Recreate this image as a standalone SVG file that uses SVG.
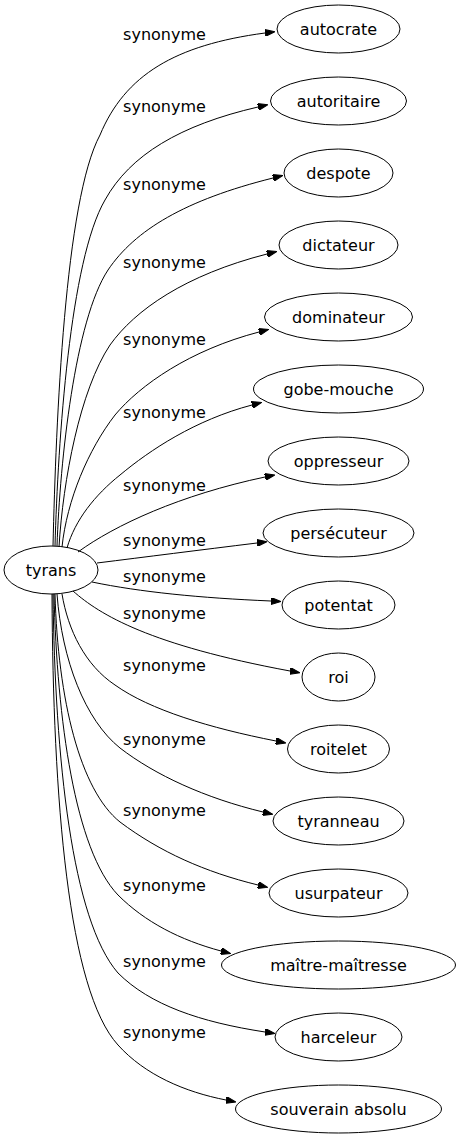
<svg xmlns="http://www.w3.org/2000/svg" width="460" height="1139" viewBox="0 0 460 1139">
<style>
.n ellipse{fill:none;stroke:#000;stroke-width:1}
.n text{font-family:"DejaVu Sans",sans-serif;font-size:16px;text-anchor:middle;fill:#000}
.e path{fill:none;stroke:#000;stroke-width:1;marker-end:url(#ah)}
.e text{font-family:"DejaVu Sans",sans-serif;font-size:16px;text-anchor:middle;fill:#000}
</style>
<defs>
<marker id="ah" viewBox="0 0 10 7" refX="0" refY="3.5" markerWidth="10" markerHeight="7" markerUnits="userSpaceOnUse" orient="auto">
<path d="M0,0 L10,3.5 L0,7 z" fill="#000" stroke="#000" stroke-width="1"/>
</marker>
</defs>
<rect width="460" height="1139" fill="#fff"/>
<g id="edges" class="e">
<path d="M53,546 C56,420 65,200 100,135 C125,75 175,45 265,33"/>
<path d="M55,546 C58,440 70,260 105,200 C130,155 180,125 258,107"/>
<path d="M57,546 C60,460 75,320 108,270 C135,230 185,200 273,178"/>
<path d="M59,547 C63,480 80,390 110,345 C135,310 185,275 267,254"/>
<path d="M62,547 C67,500 88,450 115,415 C140,385 190,350 259,332"/>
<path d="M67,548 C75,520 95,495 120,475 C150,450 195,420 252,405"/>
<path d="M78,552 C115,525 180,495 265,477"/>
<path d="M97,563 C145,557 200,550 257,543"/>
<path d="M92,582 C140,592 200,598 271,601"/>
<path d="M73,591 C100,615 150,645 290,671"/>
<path d="M62,594 C68,630 85,665 115,685 C150,710 210,728 276,741"/>
<path d="M57,594 C62,660 85,720 120,748 C155,775 205,798 263,812"/>
<path d="M55,594 C58,700 80,790 120,822 C160,852 205,872 258,885"/>
<path d="M54,594 C57,720 75,850 118,895 C145,922 180,940 221,951"/>
<path d="M53,594 C55,760 72,920 118,973 C150,1005 200,1022 265,1032"/>
<path d="M52,594 C53,800 68,990 118,1045 C145,1075 185,1092 226,1100"/>
<text x="164.5" y="40">synonyme</text>
<text x="164.5" y="112">synonyme</text>
<text x="164.5" y="190">synonyme</text>
<text x="164.5" y="268">synonyme</text>
<text x="164.5" y="345">synonyme</text>
<text x="164.5" y="418">synonyme</text>
<text x="164.5" y="491">synonyme</text>
<text x="164.5" y="546">synonyme</text>
<text x="164.5" y="582">synonyme</text>
<text x="164.5" y="619">synonyme</text>
<text x="164.5" y="671">synonyme</text>
<text x="164.5" y="745">synonyme</text>
<text x="164.5" y="816">synonyme</text>
<text x="164.5" y="891">synonyme</text>
<text x="164.5" y="967">synonyme</text>
<text x="164.5" y="1038">synonyme</text>
</g>
<g id="tyrans" class="n"><ellipse cx="51" cy="570" rx="47" ry="24"/><text x="51" y="575.5">tyrans</text></g>
<g id="autocrate" class="n"><ellipse cx="338.5" cy="29" rx="61.5" ry="24"/><text x="338.5" y="34.5">autocrate</text></g>
<g id="autoritaire" class="n"><ellipse cx="338.5" cy="101" rx="68" ry="24"/><text x="338.5" y="106.5">autoritaire</text></g>
<g id="despote" class="n"><ellipse cx="338.5" cy="173" rx="54.5" ry="24"/><text x="338.5" y="178.5">despote</text></g>
<g id="dictateur" class="n"><ellipse cx="338.5" cy="245" rx="59.5" ry="24"/><text x="338.5" y="250.5">dictateur</text></g>
<g id="dominateur" class="n"><ellipse cx="338.5" cy="317" rx="74" ry="24"/><text x="338.5" y="322.5">dominateur</text></g>
<g id="gobe-mouche" class="n"><ellipse cx="338.5" cy="389" rx="85" ry="24"/><text x="338.5" y="394.5">gobe-mouche</text></g>
<g id="oppresseur" class="n"><ellipse cx="338.5" cy="461" rx="70.5" ry="24"/><text x="338.5" y="466.5">oppresseur</text></g>
<g id="persecuteur" class="n"><ellipse cx="338.5" cy="533" rx="75.5" ry="24"/><text x="338.5" y="538.5">persécuteur</text></g>
<g id="potentat" class="n"><ellipse cx="338.5" cy="605" rx="56.5" ry="24"/><text x="338.5" y="610.5">potentat</text></g>
<g id="roi" class="n"><ellipse cx="338.5" cy="677" rx="36.5" ry="24"/><text x="338.5" y="682.5">roi</text></g>
<g id="roitelet" class="n"><ellipse cx="338.5" cy="749" rx="51" ry="24"/><text x="338.5" y="754.5">roitelet</text></g>
<g id="tyranneau" class="n"><ellipse cx="338.5" cy="821" rx="65.5" ry="24"/><text x="338.5" y="826.5">tyranneau</text></g>
<g id="usurpateur" class="n"><ellipse cx="338.5" cy="893" rx="69.5" ry="24"/><text x="338.5" y="898.5">usurpateur</text></g>
<g id="maitre-maitresse" class="n"><ellipse cx="338.5" cy="965" rx="117" ry="24"/><text x="338.5" y="970.5">maître-maîtresse</text></g>
<g id="harceleur" class="n"><ellipse cx="338.5" cy="1037" rx="63.5" ry="24"/><text x="338.5" y="1042.5">harceleur</text></g>
<g id="souverain-absolu" class="n"><ellipse cx="338.5" cy="1109" rx="103" ry="24"/><text x="338.5" y="1114.5">souverain absolu</text></g>
</svg>
